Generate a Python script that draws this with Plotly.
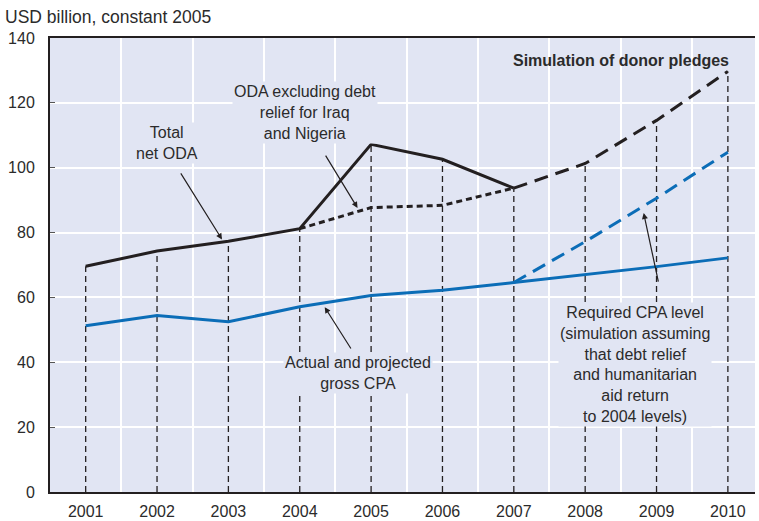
import plotly.graph_objects as go

years = [2001, 2002, 2003, 2004, 2005, 2006, 2007, 2008, 2009, 2010]
year_labels = ["2001", "2002", "2003", "2004", "2005", "2006", "2007", "2008", "2009", "2010"]

total_oda_years = [2001, 2002, 2003, 2004, 2005, 2006, 2007]
total_oda = [69.6, 74.3, 77.3, 81.2, 107.2, 102.6, 93.7]

oda_excl_years = [2004, 2005, 2006, 2007]
oda_excl = [81.2, 87.7, 88.4, 93.7]

pledge_years = [2007, 2008, 2009, 2010]
oda_pledges = [93.7, 101.3, 114.6, 129.7]

cpa_actual = [51.3, 54.4, 52.5, 57.1, 60.6, 62.2, 64.6, 67.0, 69.5, 72.2]

required_years = [2007, 2008, 2009, 2010]
cpa_required = [64.6, 77.2, 90.6, 104.8]

y_ticks = [0, 20, 40, 60, 80, 100, 120, 140]

BLACK = "#231f20"
BLUE = "#0b6db7"
BG = "#e1e5f3"
TXT = "#2b2b2b"
FONT = "Liberation Sans, Arial, sans-serif"

# top of each vertical dashed drop line = total ODA (actual then simulated)
top_by_year = dict(zip(total_oda_years, total_oda))
top_by_year.update(dict(zip(pledge_years, oda_pledges)))
vx, vy = [], []
for yr in years:
    vx += [yr, yr, None]
    vy += [0, top_by_year[yr], None]

fig = go.Figure()
fig.add_trace(go.Scatter(x=vx, y=vy, mode="lines",
                         line=dict(color=BLACK, width=1.3, dash="6px,4px"),
                         hoverinfo="skip", showlegend=False))
fig.add_trace(go.Scatter(x=years, y=cpa_actual, mode="lines",
                         line=dict(color=BLUE, width=3), showlegend=False))
fig.add_trace(go.Scatter(x=required_years, y=cpa_required, mode="lines",
                         line=dict(color=BLUE, width=3, dash="14px,8px"), showlegend=False))
fig.add_trace(go.Scatter(x=oda_excl_years, y=oda_excl, mode="lines",
                         line=dict(color=BLACK, width=3, dash="6px,4px"), showlegend=False))
fig.add_trace(go.Scatter(x=pledge_years, y=oda_pledges, mode="lines",
                         line=dict(color=BLACK, width=3, dash="14px,8px"), showlegend=False))
fig.add_trace(go.Scatter(x=total_oda_years, y=total_oda, mode="lines",
                         line=dict(color=BLACK, width=3), showlegend=False))

labels = [
    ("Total<br>net ODA", 2002.14, 107.6),
    ("ODA excluding debt<br>relief for Iraq<br>and Nigeria", 2004.07, 116.9),
    ("Actual and projected<br>gross CPA", 2004.81, 36.7),
    ("Required CPA level<br>(simulation assuming<br>that debt relief<br>and humanitarian<br>aid return<br>to 2004 levels)", 2008.70, 39.2),
]
for txt, x, y in labels:
    fig.add_annotation(x=x, y=y, xref="x", yref="y", text=txt, showarrow=False,
                       font=dict(family=FONT, size=16, color=TXT), align="center",
                       bgcolor=BG, borderpad=1)

arrows = [
    (2002.91, 77.9, 2002.32, 98.7),
    (2004.81, 87.6, 2004.35, 104.2),
    (2004.35, 57.0, 2004.73, 43.8),
    (2008.82, 86.0, 2009.03, 64.4),
]
for x, y, ax, ay in arrows:
    fig.add_annotation(x=x, y=y, ax=ax, ay=ay, xref="x", yref="y", axref="x", ayref="y",
                       text="", showarrow=True, arrowhead=2, arrowsize=1.0,
                       arrowwidth=1.2, arrowcolor=BLACK)

fig.add_annotation(x=2010.04, y=133.2, xref="x", yref="y", xanchor="right",
                   text="<b>Simulation of donor pledges</b>", showarrow=False,
                   font=dict(family=FONT, size=16, color=TXT))

fig.add_annotation(x=0, y=1, xref="paper", yref="paper", xanchor="left", yanchor="bottom",
                   text="USD billion, constant 2005", showarrow=False, xshift=-47, yshift=9,
                   font=dict(family=FONT, size=17.5, color=TXT))

fig.update_layout(
    width=759, height=521,
    margin=dict(l=50, r=4, t=38, b=29),
    paper_bgcolor="white", plot_bgcolor=BG,
    font=dict(family=FONT, size=16, color=TXT),
)
fig.update_xaxes(
    range=[2000.5, 2010.38], tickvals=years, ticktext=year_labels,
    showgrid=False, zeroline=False, ticks="", automargin=False,
    showline=True, linecolor=BLACK, linewidth=2, mirror=True,
    tickfont=dict(family=FONT, size=16, color=TXT), ticklabelstandoff=4,
    minor=dict(tickvals=[y - 0.5 for y in years] + [years[-1] + 0.5],
               showgrid=True, gridcolor="white", gridwidth=1.5, ticks=""),
)
fig.update_yaxes(
    range=[0, 140], tickvals=y_ticks, showgrid=True, gridcolor="white", gridwidth=1.5,
    zeroline=False, showline=True, linecolor=BLACK, linewidth=2, automargin=False,
    ticks="inside", ticklen=5, tickcolor="#555", tickwidth=1,
    tickfont=dict(family=FONT, size=16, color=TXT), ticklabelstandoff=10,
)

fig.write_html("out.html", config={"displayModeBar": False},
               post_script="document.body.style.margin='0';document.body.style.overflow='hidden';")
